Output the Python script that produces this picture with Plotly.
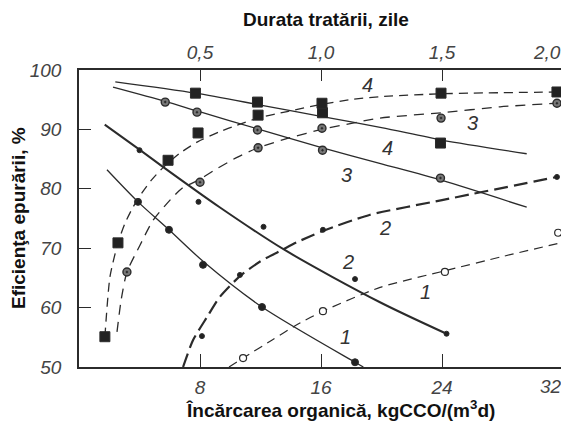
import plotly.graph_objects as go

# ---------------- data ----------------
load_ticks = [8, 16, 24, 32]
load_ticktext = ["8", "16", "24", "32"]
days_ticks = [0.5, 1.0, 1.5, 2.0]
days_ticktext = ["0,5", "1,0", "1,5", "2,0"]
eff_ticks = [50, 60, 70, 80, 90, 100]

# solid curves: efficiency vs organic load (bottom axis)
s4_line_x = [2.4, 7.7, 12, 16, 20, 24, 29.6]
s4_line_y = [98.0, 96.1, 94.1, 92.2, 90.3, 88.2, 85.9]
s4_pts_x = [7.7, 11.8, 16.1, 23.9]
s4_pts_y = [96.1, 94.6, 92.8, 87.7]

s3_line_x = [2.25, 5.7, 7.8, 11.8, 16.1, 20, 24, 29.6]
s3_line_y = [97.1, 94.7, 93.1, 90.1, 86.9, 84.2, 81.4, 76.9]
s3_pts_x = [5.7, 7.8, 11.8, 16.1, 23.9]
s3_pts_y = [94.6, 92.9, 89.9, 86.5, 81.8]

s2_line_x = [1.7, 4.0, 5.55, 9.3, 13.6, 19.9, 24.3]
s2_line_y = [90.8, 86.6, 83.7, 76.9, 69.7, 60.9, 55.6]
s2_pts_x = [4.0, 7.9, 12.2, 18.25, 24.3]
s2_pts_y = [86.5, 77.8, 73.6, 64.8, 55.6]

s1_line_x = [1.85, 3.9, 5.95, 8.2, 12.1, 18.25, 18.8]
s1_line_y = [83.2, 77.8, 73.1, 67.8, 60.1, 50.8, 50.0]
s1_pts_x = [3.9, 5.95, 8.2, 12.1, 18.25]
s1_pts_y = [77.8, 73.1, 67.2, 60.1, 50.8]

# dashed curves: efficiency vs treatment duration (top axis, days)
d4_line_x = [0.107, 0.128, 0.161, 0.19, 0.223, 0.26, 0.30, 0.343, 0.417, 0.49,
             0.58, 0.653, 0.74, 0.86, 1.0, 1.12, 1.24, 1.5, 1.98]
d4_line_y = [55.1, 65.2, 70.9, 74.2, 76.9, 79.3, 81.5, 83.4, 86.0, 87.9,
             89.6, 90.7, 91.9, 93.0, 94.2, 95.0, 95.5, 96.0, 96.3]
d4_pts_x = [0.107, 0.161, 0.368, 0.492, 0.74, 1.004, 1.496, 1.975]
d4_pts_y = [55.1, 70.9, 84.8, 89.4, 92.4, 94.4, 96.1, 96.3]

d3_line_x = [0.157, 0.175, 0.198, 0.252, 0.306, 0.376, 0.426, 0.5, 0.554, 0.653,
             0.74, 0.872, 1.004, 1.244, 1.496, 1.74, 1.975]
d3_line_y = [55.9, 61.5, 66.0, 70.5, 74.7, 78.1, 80.1, 81.6, 83.0, 85.3,
             86.9, 88.6, 90.0, 91.9, 92.8, 93.8, 94.4]
d3_pts_x = [0.198, 0.5, 0.74, 1.004, 1.496, 1.975]
d3_pts_y = [66.0, 81.1, 86.9, 90.2, 91.9, 94.4]

d2_line_x = [0.43, 0.471, 0.529, 0.582, 0.665, 0.75, 0.839, 0.90, 1.008, 1.2, 1.5, 1.975]
d2_line_y = [50.0, 54.5, 58.4, 61.8, 65.3, 67.8, 69.7, 71.0, 72.9, 75.6, 78.1, 82.0]
d2_pts_x = [0.508, 0.665, 1.008, 1.975]
d2_pts_y = [55.2, 65.5, 73.1, 82.0]

d1_line_x = [0.62, 0.678, 0.8, 0.9, 1.008, 1.244, 1.512, 1.75, 2.0]
d1_line_y = [50.0, 51.5, 54.6, 57.1, 59.4, 63.4, 66.2, 68.6, 71.0]
d1_pts_x = [0.678, 1.008, 1.512, 1.98]
d1_pts_y = [51.5, 59.4, 66.0, 72.6]

curve_names = ["1", "2", "3", "4"]
solid_label_x = [17.6, 17.8, 17.7, 20.4]
solid_label_y = [55.0, 67.7, 82.3, 86.9]
dashed_label_x = [1.43, 1.265, 1.628, 1.194]
dashed_label_y = [62.6, 73.4, 91.1, 97.5]

# ---------------- figure ----------------
INK = "#2b2b2b"
fig = go.Figure()


def line(x, y, axis, width, dash, smooth=0.8):
    fig.add_trace(go.Scatter(x=x, y=y, mode="lines", xaxis=axis, yaxis="y",
                             line=dict(color=INK, width=width, dash=dash,
                                       shape="spline", smoothing=smooth),
                             hoverinfo="skip"))


def pts(x, y, axis, symbol, size, fill, lw=1.0):
    fig.add_trace(go.Scatter(x=x, y=y, mode="markers", xaxis=axis, yaxis="y",
                             marker=dict(symbol=symbol, size=size, color=fill,
                                         line=dict(color=INK, width=lw)),
                             cliponaxis=False))


# solid
line(s4_line_x, s4_line_y, "x", 1.3, "solid")
line(s3_line_x, s3_line_y, "x", 1.3, "solid")
line(s2_line_x, s2_line_y, "x", 2.0, "solid")
line(s1_line_x, s1_line_y, "x", 1.3, "solid")
# dashed
line(d4_line_x, d4_line_y, "x2", 1.3, "9px,6px", 0.6)
line(d3_line_x, d3_line_y, "x2", 1.3, "10px,7px", 0.6)
line(d2_line_x, d2_line_y, "x2", 2.2, "14px,6px", 0.6)
line(d1_line_x, d1_line_y, "x2", 1.2, "9px,6px", 0.6)

# markers
pts(s4_pts_x, s4_pts_y, "x", "square", 10, "#222")
pts(d4_pts_x, d4_pts_y, "x2", "square", 10, "#222")
pts(s3_pts_x, s3_pts_y, "x", "circle-dot", 8, "#777", 1.4)
pts(d3_pts_x, d3_pts_y, "x2", "circle-dot", 8, "#777", 1.4)
pts(s2_pts_x, s2_pts_y, "x", "circle", 5, "#222")
pts(d2_pts_x, d2_pts_y, "x2", "circle", 5, "#222")
pts(s1_pts_x, s1_pts_y, "x", "circle", 7, "#222")
pts(d1_pts_x, d1_pts_y, "x2", "circle", 7, "white", 1.2)

label_font = dict(family="Liberation Sans Narrow, Liberation Sans, Arial", size=20,
                  color="#333", style="italic")
tick_font = dict(family="Liberation Sans Narrow, Liberation Sans, Arial", size=19,
                 color="#444", style="italic")

annotations = []
for n, lx, ly in zip(curve_names, solid_label_x, solid_label_y):
    annotations.append(dict(x=lx, y=ly, xref="x", yref="y", text=n,
                            showarrow=False, font=label_font))
for n, lx, ly in zip(curve_names, dashed_label_x, dashed_label_y):
    annotations.append(dict(x=lx, y=ly, xref="x2", yref="y", text=n,
                            showarrow=False, font=label_font))

# corner tick labels, pulled inside the window as in the reference
annotations += [
    dict(x=load_ticks[-1], y=-0.066, xref="x", yref="paper", text=load_ticktext[-1],
         showarrow=False, font=tick_font, xanchor="right", yanchor="middle", xshift=1),
    dict(x=days_ticks[-1], y=1.058, xref="x2", yref="paper", text=days_ticktext[-1],
         showarrow=False, font=tick_font, xanchor="right", yanchor="middle", xshift=0),
]

title_font = dict(family="Liberation Sans, Arial", size=19, color="#111", weight="bold")
annotations += [
    dict(x=0.51, y=1.17, xref="paper", yref="paper", text="Durata tratării, zile",
         showarrow=False, font=title_font, xanchor="center", yanchor="middle"),
    dict(x=0.54, y=-0.14, xref="paper", yref="paper",
         text="Încărcarea organică, kgCCO/(m<sup>3</sup>d)",
         showarrow=False, font=title_font, xanchor="center", yanchor="middle"),
    dict(x=-0.125, y=0.5, xref="paper", yref="paper", text="Eficienţa epurării, %",
         showarrow=False, font=title_font, textangle=-90,
         xanchor="center", yanchor="middle"),
]

axis_common = dict(showgrid=False, zeroline=False, showline=True, linecolor=INK,
                   linewidth=1.5, ticks="inside", tickcolor=INK, tickwidth=1.3,
                   tickfont=tick_font, automargin=False, ticklabeloverflow="allow")

# the page body adds an 8 px offset, so the figure is sized to fill the window from there
fig.update_layout(
    width=561, height=415,
    margin=dict(l=71, r=6, t=62, b=56, autoexpand=False),
    paper_bgcolor="white", plot_bgcolor="white",
    showlegend=False,
    xaxis=dict(axis_common, range=[0, 32], tickvals=load_ticks[:-1],
               ticktext=load_ticktext[:-1], ticklen=13, ticklabelstandoff=2),
    xaxis2=dict(axis_common, range=[0, 2], overlaying="x", side="top",
                tickvals=days_ticks[:-1], ticktext=days_ticktext[:-1], ticklen=11,
                ticklabelstandoff=2),
    yaxis=dict(axis_common, range=[50, 100], tickvals=eff_ticks, ticklen=12,
               mirror=True, ticklabelstandoff=12),
    annotations=annotations,
)

fig.write_html("out.html")
